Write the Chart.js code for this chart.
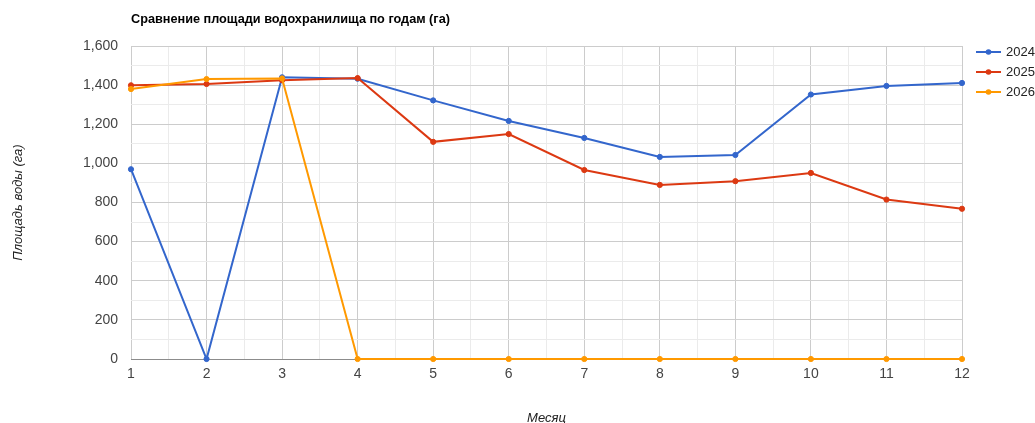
<!DOCTYPE html>
<html>
<head>
<meta charset="utf-8">
<script src="https://cdn.jsdelivr.net/npm/chart.js@4/dist/chart.umd.min.js"></script>
<style>
html,body{margin:0;padding:0;background:#fff;}
#wrap{width:1035px;height:423px;position:relative;}
</style>
</head>
<body>
<div id="wrap"><canvas id="c" width="1035" height="423"></canvas></div>
<script>
const months = [1,2,3,4,5,6,7,8,9,10,11,12];
const series2024 = [970, 0, 1440, 1433, 1322, 1217, 1130, 1033, 1043, 1352, 1396, 1411];
const series2025 = [1399, 1406, 1425, 1436, 1110, 1150, 966, 890, 909, 951, 815, 768];
const series2026 = [1380, 1431, 1434, 0, 0, 0, 0, 0, 0, 0, 0, 0];
const seriesNames = ['2024', '2025', '2026'];
const seriesColors = ['#3366cc', '#dc3912', '#ff9900'];
const titleText = 'Сравнение площади водохранилища по годам (га)';
const yTitle = 'Площадь воды (га)';
const xTitle = 'Месяц';

const FONT = 'Arial, "Liberation Sans", sans-serif';
const allSeries = [series2024, series2025, series2026];

const datasets = allSeries.map((s, i) => ({
  label: seriesNames[i],
  data: months.map((m, j) => ({x: m, y: s[j]})),
  borderColor: seriesColors[i],
  backgroundColor: seriesColors[i],
  pointBackgroundColor: seriesColors[i],
  pointBorderColor: seriesColors[i],
  pointRadius: 2.6,
  pointBorderWidth: 1,
  borderWidth: 2,
  tension: 0,
  clip: false,
  order: 3 - i
}));

const textPlugin = {
  id: 'texts',
  afterDraw(chart) {
    const ctx = chart.ctx;
    const ca = chart.chartArea;
    ctx.save();
    // title
    ctx.fillStyle = '#000';
    ctx.font = 'bold 12.7px ' + FONT;
    ctx.textAlign = 'left';
    ctx.textBaseline = 'middle';
    ctx.fillText(titleText, 131, 19);
    // legend
    ctx.font = '13px ' + FONT;
    seriesNames.forEach((n, i) => {
      const y = 52 + i * 20;
      ctx.strokeStyle = seriesColors[i];
      ctx.lineWidth = 2;
      ctx.beginPath();
      ctx.moveTo(976, y);
      ctx.lineTo(1001, y);
      ctx.stroke();
      ctx.fillStyle = seriesColors[i];
      ctx.beginPath();
      ctx.arc(988.5, y, 2.8, 0, Math.PI * 2);
      ctx.fill();
      ctx.fillStyle = '#222';
      ctx.textAlign = 'left';
      ctx.fillText(n, 1006, y);
    });
    // axis titles
    ctx.font = 'italic 13px ' + FONT;
    ctx.fillStyle = '#222';
    ctx.textAlign = 'center';
    ctx.fillText(xTitle, (ca.left + ca.right) / 2, 418);
    ctx.translate(18, (ca.top + ca.bottom) / 2);
    ctx.rotate(-Math.PI / 2);
    ctx.fillText(yTitle, 0, 0);
    ctx.restore();
  }
};

new Chart(document.getElementById('c'), {
  type: 'line',
  data: { datasets },
  options: {
    responsive: false,
    animation: false,
    layout: { padding: { left: 0, right: 73, top: 46, bottom: 0 } },
    plugins: { legend: { display: false }, title: { display: false }, tooltip: { enabled: false } },
    scales: {
      x: {
        type: 'linear',
        min: 1, max: 12,
        afterFit(s) { s.height = 64; },
        afterBuildTicks(s) {
          const t = [];
          for (let v = 1; v <= 12.0001; v += 0.5) t.push({ value: v });
          s.ticks = t;
        },
        border: { display: false },
        grid: {
          drawTicks: false,
          color: c => (Number.isInteger(c.tick.value) ? '#cccccc' : '#ebebeb'),
          lineWidth: 1
        },
        ticks: {
          padding: 7,
          autoSkip: false,
          maxRotation: 0,
          color: '#444',
          font: { family: FONT, size: 14 },
          callback: v => (Number.isInteger(v) ? String(v) : '')
        }
      },
      y: {
        min: 0, max: 1600,
        afterFit(s) { s.width = 131; },
        afterBuildTicks(s) {
          const t = [];
          for (let v = 0; v <= 1600; v += 100) t.push({ value: v });
          s.ticks = t;
        },
        border: { display: false },
        grid: {
          drawTicks: false,
          color: c => (c.tick.value === 0 ? '#8c8c8c' : (c.tick.value % 200 === 0 ? '#cccccc' : '#ebebeb')),
          lineWidth: 1
        },
        ticks: {
          padding: 13,
          autoSkip: false,
          color: '#444',
          font: { family: FONT, size: 14 },
          callback: v => (v % 200 === 0 ? v.toLocaleString('en-US') : '')
        }
      }
    }
  },
  plugins: [textPlugin]
});
</script>
</body>
</html>
